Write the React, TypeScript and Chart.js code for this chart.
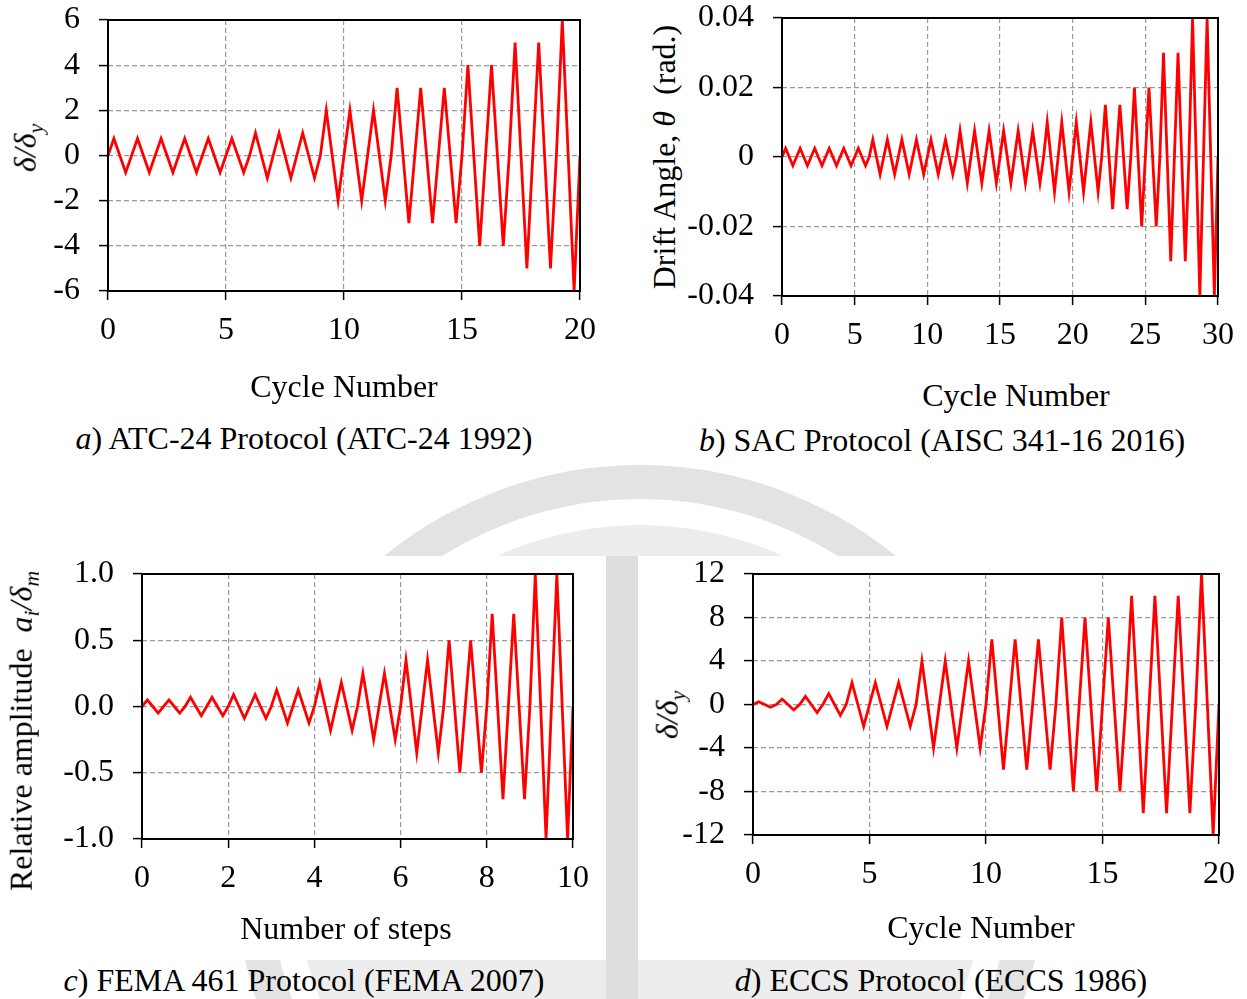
import React, { useEffect, useRef } from "react";
import { Chart, registerables } from "chart.js";

Chart.register(...registerables);

// ---- Data: amplitude of each loading cycle ----
// a) ATC-24 protocol (delta/delta_y), 1 cycle per unit on x
const cyclesA = [0.75, 0.75, 0.75, 0.75, 0.75, 0.75, 1, 1, 1, 2, 2, 2, 3, 3, 3, 4, 4, 5, 5, 6];
// b) SAC protocol (drift angle, rad), 1 cycle per unit on x
const cyclesB = [
  0.0025, 0.0025, 0.0025, 0.0025, 0.0025, 0.0025,
  0.005, 0.005, 0.005, 0.005, 0.005, 0.005,
  0.0075, 0.0075, 0.0075, 0.0075, 0.0075, 0.0075,
  0.01, 0.01, 0.01, 0.01,
  0.015, 0.015, 0.02, 0.02, 0.03, 0.03, 0.04, 0.04,
];
// c) FEMA 461 protocol (relative amplitude), 2 cycles per step
const cyclesC = [0.05, 0.05, 0.07, 0.07, 0.09, 0.09, 0.125, 0.125, 0.18, 0.18, 0.25, 0.25, 0.35, 0.35, 0.5, 0.5, 0.7, 0.7, 1, 1];
// d) ECCS protocol (delta/delta_y), 1 cycle per unit on x
const cyclesD = [0.25, 0.5, 0.75, 1, 2, 2, 2, 4, 4, 4, 6, 6, 6, 8, 8, 8, 10, 10, 10, 12];

const cycleWidthA = 1;
const cycleWidthB = 1;
const cycleWidthC = 0.5;
const cycleWidthD = 1;

// ---- Tick labels ----
const xTicksA = [0, 5, 10, 15, 20];
const yTicksA = [-6, -4, -2, 0, 2, 4, 6];
const xTicksB = [0, 5, 10, 15, 20, 25, 30];
const yTicksB = [-0.04, -0.02, 0, 0.02, 0.04];
const xTicksC = [0, 2, 4, 6, 8, 10];
const yTicksC = [-1, -0.5, 0, 0.5, 1];
const xTicksD = [0, 5, 10, 15, 20];
const yTicksD = [-12, -8, -4, 0, 4, 8, 12];

// Each cycle: zero, +amplitude, zero, -amplitude (quarter-cycle points)
function buildWave(amps: number[], w: number) {
  const pts: { x: number; y: number }[] = [];
  amps.forEach((a, i) => {
    const x0 = i * w;
    pts.push({ x: x0, y: 0 });
    pts.push({ x: x0 + w / 4, y: a });
    pts.push({ x: x0 + w / 2, y: 0 });
    pts.push({ x: x0 + (3 * w) / 4, y: -a });
  });
  pts.push({ x: amps.length * w, y: 0 });
  return pts;
}

const FONT_FAMILY = '"Liberation Serif", "Times New Roman", Times, serif';
const GRID = "#9a9a9a";

const framePlugin = {
  id: "frame",
  afterDraw(chart: any) {
    const { ctx, chartArea } = chart;
    ctx.save();
    ctx.strokeStyle = "#000";
    ctx.lineWidth = 2;
    ctx.setLineDash([]);
    ctx.strokeRect(chartArea.left, chartArea.top, chartArea.right - chartArea.left, chartArea.bottom - chartArea.top);
    ctx.restore();
  },
};

type Plot = { l: number; t: number; r: number; b: number };

const YW = 100;
const XH = 80;
const PT = 50;
const PR = 40;

function Panel({
  plot,
  amps,
  cw,
  xTicks,
  yTicks,
  yFmt,
}: {
  plot: Plot;
  amps: number[];
  cw: number;
  xTicks: number[];
  yTicks: number[];
  yFmt: (v: number) => string;
}) {
  const ref = useRef<HTMLCanvasElement>(null);
  const w = plot.r - plot.l + YW + PR;
  const h = plot.b - plot.t + PT + XH;
  useEffect(() => {
    const font = { family: FONT_FAMILY, size: 32 };
    const chart = new Chart(ref.current as HTMLCanvasElement, {
      type: "line",
      data: {
        datasets: [
          {
            data: buildWave(amps, cw),
            borderColor: "#ff0000",
            borderWidth: 2.8,
            pointRadius: 0,
            tension: 0,
            fill: false,
          },
        ],
      },
      options: {
        animation: false,
        responsive: false,
        maintainAspectRatio: false,
        events: [],
        layout: { padding: { top: PT, right: PR, left: 0, bottom: 0 } },
        plugins: { legend: { display: false }, tooltip: { enabled: false } },
        scales: {
          x: {
            type: "linear",
            min: xTicks[0],
            max: xTicks[xTicks.length - 1],
            afterBuildTicks: (s: any) => {
              s.ticks = xTicks.map((v) => ({ value: v }));
            },
            afterFit: (s: any) => {
              s.height = XH;
            },
            ticks: {
              font,
              color: "#000",
              padding: 11,
              maxRotation: 0,
              autoSkip: false,
              callback: (v: any) => String(v),
            },
            grid: {
              color: GRID,
              lineWidth: 1.2,
              tickColor: "#000",
              tickLength: 9,
              tickWidth: 1.5,
              tickBorderDash: [],
            },
            border: { display: false, dash: [5, 3] },
          },
          y: {
            type: "linear",
            min: yTicks[0],
            max: yTicks[yTicks.length - 1],
            afterBuildTicks: (s: any) => {
              s.ticks = yTicks.map((v) => ({ value: v }));
            },
            afterFit: (s: any) => {
              s.width = YW;
            },
            ticks: {
              font,
              color: "#000",
              padding: 19,
              autoSkip: false,
              callback: (v: any) => yFmt(Number(v)),
            },
            grid: {
              color: GRID,
              lineWidth: 1.2,
              tickColor: "#000",
              tickLength: 9,
              tickWidth: 1.5,
              tickBorderDash: [],
            },
            border: { display: false, dash: [5, 3] },
          },
        },
      },
      plugins: [framePlugin],
    } as any);
    return () => chart.destroy();
  }, []);
  return (
    <canvas
      ref={ref}
      width={w}
      height={h}
      style={{ position: "absolute", left: plot.l - YW, top: plot.t - PT, width: w, height: h }}
    />
  );
}

function Txt({
  x,
  y,
  rot,
  children,
}: {
  x: number;
  y: number;
  rot?: boolean;
  children: React.ReactNode;
}) {
  return (
    <div
      style={{
        position: "absolute",
        left: x,
        top: y,
        transform: `translate(-50%, -50%)${rot ? " rotate(-90deg)" : ""}`,
        whiteSpace: "nowrap",
        fontFamily: FONT_FAMILY,
        fontSize: 32,
        lineHeight: "32px",
        color: "#000",
      }}
    >
      {children}
    </div>
  );
}

const I = ({ children }: { children: React.ReactNode }) => <span style={{ fontStyle: "italic" }}>{children}</span>;
const Sub = ({ children }: { children: React.ReactNode }) => (
  <span style={{ fontStyle: "italic", fontSize: "0.68em", verticalAlign: "-0.3em" }}>{children}</span>
);

const fmtInt = (v: number) => String(Math.round(v));
const fmtB = (v: number) => (Math.abs(v) < 1e-9 ? "0" : v.toFixed(2));
const fmtC = (v: number) => (Math.abs(v) < 1e-9 ? "0.0" : v.toFixed(1));

// faint background watermark (decorative)
function Watermark() {
  return (
    <svg width={1247} height={999} style={{ position: "absolute", left: 0, top: 0 }}>
      <circle cx={640} cy={870} r={388} fill="none" stroke="#e3e3e3" strokeWidth={34} />
      <circle cx={640} cy={870} r={345} fill="#ededed" />
      <rect x={0} y={0} width={622} height={418} fill="#fff" />
      <rect x={640} y={0} width={607} height={421} fill="#fff" />
      <rect x={0} y={556} width={606} height={404} fill="#fff" />
      <rect x={638} y={556} width={609} height={404} fill="#fff" />
      <rect x={606} y={556} width={32} height={443} fill="#dedede" />
    </svg>
  );
}

export default function App() {
  return (
    <div
      style={{
        position: "absolute",
        left: 0,
        top: 0,
        width: 1247,
        height: 999,
        background: "#fff",
        overflow: "hidden",
      }}
    >
      <Watermark />
      <Panel plot={{ l: 108, t: 20, r: 580, b: 291 }} amps={cyclesA} cw={cycleWidthA} xTicks={xTicksA} yTicks={yTicksA} yFmt={fmtInt} />
      <Panel plot={{ l: 782, t: 18, r: 1218, b: 296 }} amps={cyclesB} cw={cycleWidthB} xTicks={xTicksB} yTicks={yTicksB} yFmt={fmtB} />
      <Panel plot={{ l: 142, t: 574, r: 573, b: 839 }} amps={cyclesC} cw={cycleWidthC} xTicks={xTicksC} yTicks={yTicksC} yFmt={fmtC} />
      <Panel plot={{ l: 753, t: 574, r: 1219, b: 835 }} amps={cyclesD} cw={cycleWidthD} xTicks={xTicksD} yTicks={yTicksD} yFmt={fmtInt} />

      {/* a */}
      <Txt x={30} y={148} rot>
        <I>δ/δ</I>
        <Sub>y</Sub>
      </Txt>
      <Txt x={344} y={386}>Cycle Number</Txt>
      <Txt x={304} y={438}>
        <I>a</I>) ATC-24 Protocol (ATC-24 1992)
      </Txt>

      {/* b */}
      <Txt x={664} y={157} rot>
        Drift Angle, <I>θ</I>&nbsp; (rad.)
      </Txt>
      <Txt x={1016} y={395}>Cycle Number</Txt>
      <Txt x={942} y={440}>
        <I>b</I>) SAC Protocol (AISC 341-16 2016)
      </Txt>

      {/* c */}
      <Txt x={26} y={731} rot>
        Relative amplitude&nbsp; <I>a</I>
        <Sub>i</Sub>
        <I>/δ</I>
        <Sub>m</Sub>
      </Txt>
      <Txt x={346} y={928}>Number of steps</Txt>
      <Txt x={304} y={980}>
        <I>c</I>) FEMA 461 Protocol (FEMA 2007)
      </Txt>

      {/* d */}
      <Txt x={672} y={715} rot>
        <I>δ/δ</I>
        <Sub>y</Sub>
      </Txt>
      <Txt x={981} y={927}>Cycle Number</Txt>
      <Txt x={941} y={980}>
        <I>d</I>) ECCS Protocol (ECCS 1986)
      </Txt>
    </div>
  );
}
